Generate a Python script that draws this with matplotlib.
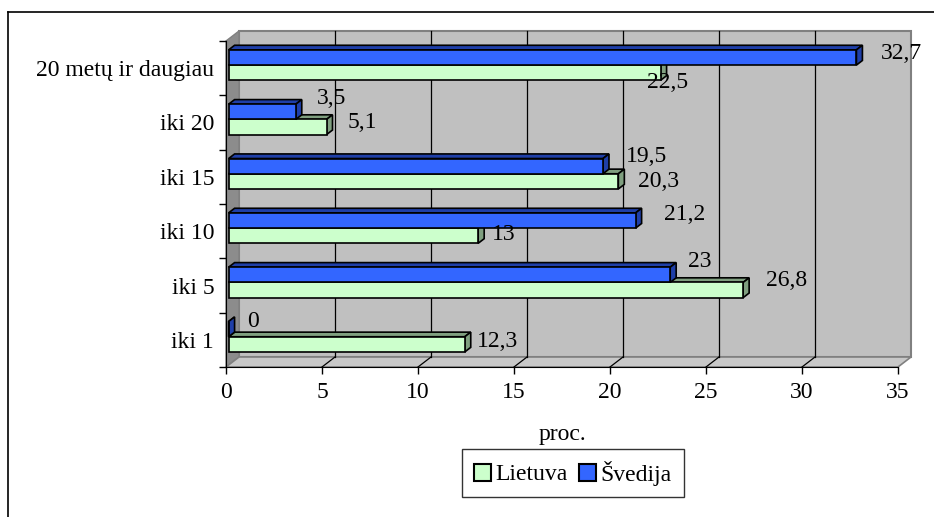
import numpy as np
import matplotlib
matplotlib.use('Agg')
import matplotlib.pyplot as plt
from matplotlib.patches import Polygon, Patch
from matplotlib.lines import Line2D

plt.rcParams['font.family'] = ['Liberation Serif', 'DejaVu Serif']
FS = 17
plt.rcParams['font.size'] = FS

# Data (bottom to top)
categories = ['iki 1', 'iki 5', 'iki 10', 'iki 15', 'iki 20', '20 metų ir daugiau']
lietuva = [12.3, 26.8, 13, 20.3, 5.1, 22.5]
svedija = [0, 23, 21.2, 19.5, 3.5, 32.7]
xticks = [0, 5, 10, 15, 20, 25, 30, 35]

# value label nudges in pixels (from bar end, from bar centre; +dy = down)
lt_nudge = [(12, -3), (23, -10), (14, -1), (20, 0), (21, -5), (-14, 10)]
sv_nudge = [(19, -8), (18, -13), (28, -6), (23, -10), (21, -13), (24, -4)]

W, H, DPI = 934, 517, 100
fig = plt.figure(figsize=(W / DPI, H / DPI), dpi=DPI)
fig.patch.set_facecolor('white')

# front plane of the 3D box
x0, x1, y0, y1 = 226, 898, 367, 41
ax = fig.add_axes([x0 / W, 1 - y0 / H, (x1 - x0) / W, (y0 - y1) / H])
ax.set_xlim(0, 35)
ax.set_ylim(-0.5, 5.5)
ax.patch.set_visible(False)

pxu_x = (x1 - x0) / 35.0
pxu_y = (y0 - y1) / 6.0
# box depth (pixels -> data units)
dX, dY = 13 / pxu_x, 10 / pxu_y
xmax = 35

wall = '#c0c0c0'
edge_grey = '#808080'

# back wall
ax.add_patch(Polygon([(dX, -0.5 + dY), (xmax + dX, -0.5 + dY),
                      (xmax + dX, 5.5 + dY), (dX, 5.5 + dY)],
                     closed=True, fc=wall, ec=edge_grey, lw=1.5,
                     clip_on=False, zorder=0))
# left side wall
ax.add_patch(Polygon([(0, -0.5), (dX, -0.5 + dY), (dX, 5.5 + dY), (0, 5.5)],
                     closed=True, fc='#8c8c8c', ec=edge_grey, lw=1,
                     clip_on=False, zorder=0))
# floor
ax.add_patch(Polygon([(0, -0.5), (xmax, -0.5), (xmax + dX, -0.5 + dY),
                      (dX, -0.5 + dY)],
                     closed=True, fc='#c8c8c8', ec=edge_grey, lw=1.2,
                     clip_on=False, zorder=0))

# gridlines on wall and floor
for t in xticks[1:-1]:
    ax.plot([t + dX, t + dX], [-0.5 + dY, 5.5 + dY], color='black',
            lw=0.9, zorder=1, clip_on=False)
    ax.plot([t, t + dX], [-0.5, -0.5 + dY], color='black',
            lw=0.9, zorder=1, clip_on=False)

# 3D bars
bf, bb = 0.2, 0.66
h = 0.28
split = 0.02


def bar3d(yc, val, front, side):
    fx, fy = bf * dX, bf * dY
    bx, by = bb * dX, bb * dY
    ylo, yhi = yc, yc + h
    top = [(fx, yhi + fy), (val + fx, yhi + fy), (val + bx, yhi + by), (bx, yhi + by)]
    rside = [(val + fx, ylo + fy), (val + bx, ylo + by), (val + bx, yhi + by), (val + fx, yhi + fy)]
    ax.add_patch(Polygon(top, closed=True, fc=side, ec='black', lw=1.2,
                         clip_on=False, zorder=3))
    ax.add_patch(Polygon(rside, closed=True, fc=side, ec='black', lw=1.2,
                         clip_on=False, zorder=3))
    ax.barh(ylo + fy, val, height=h, left=fx, align='edge', color=front,
            edgecolor='black', lw=1.2, zorder=3, clip_on=False)


ypos = np.arange(len(categories))
for i in ypos:
    bar3d(i + split - h, lietuva[i], '#ccffcc', '#7f9f7f')
    bar3d(i + split, svedija[i], '#3366ff', '#1f3fa8')


def fmt(v):
    return ('%g' % v).replace('.', ',')


# value labels
for i in ypos:
    for vals, nud, yc in ((lietuva, lt_nudge, i + split - h / 2),
                          (svedija, sv_nudge, i + split + h / 2)):
        v = vals[i]
        end = ax.transData.transform((v + bf * dX, yc + bf * dY))
        dx, dy = nud[i]
        pos = ax.transData.inverted().transform((end[0] + dx, end[1] - dy))
        ax.text(pos[0], pos[1], fmt(v), ha='left', va='center',
                fontsize=FS, zorder=5, clip_on=False)

# axes
for s in ['top', 'right']:
    ax.spines[s].set_visible(False)
ax.spines['left'].set_color('black')
ax.spines['bottom'].set_color('black')
ax.spines['left'].set_zorder(2)
ax.set_xticks(xticks)
ax.set_xticklabels([str(t) for t in xticks])
ax.tick_params(axis='x', length=5, width=1, pad=6, labelsize=FS)
ax.set_yticks(np.arange(-0.5, 6, 1.0))
ax.set_yticklabels([])
ax.tick_params(axis='y', which='major', length=5, width=1)
ax.set_yticks(ypos, minor=True)
ax.set_yticklabels(categories, minor=True)
ax.tick_params(axis='y', which='minor', length=0, pad=8.5, labelsize=FS)
ax.set_xlabel('proc.', fontsize=FS, labelpad=15)

# legend
handles = [Patch(fc='#ccffcc', ec='black', lw=1.5, label='Lietuva'),
           Patch(fc='#3366ff', ec='black', lw=1.5, label='Švedija')]
leg = fig.legend(handles=handles, loc='center',
                 bbox_to_anchor=(573 / W, 1 - 473 / H), ncol=2,
                 frameon=True, fancybox=False, shadow=False,
                 handlelength=0.7, handleheight=0.7, handletextpad=0.2,
                 columnspacing=0.5, borderpad=0.5, fontsize=FS)
leg.get_frame().set_edgecolor('black')
leg.get_frame().set_linewidth(1)

# chart area border
fig.add_artist(Line2D([8 / W, 1], [1 - 12 / H, 1 - 12 / H], color='black', lw=1.2))
fig.add_artist(Line2D([8 / W, 8 / W], [0, 1 - 12 / H], color='black', lw=1.2))

fig.savefig('out.png', dpi=DPI)
